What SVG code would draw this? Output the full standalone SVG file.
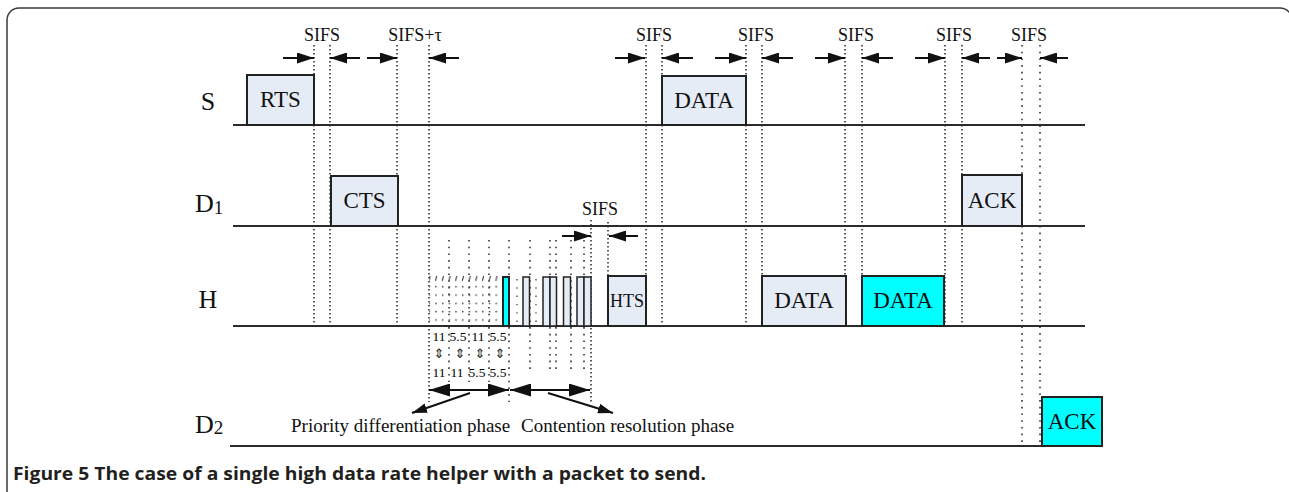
<svg xmlns="http://www.w3.org/2000/svg" width="1289" height="492" viewBox="0 0 1289 492">
<defs>
<style>
.frame{fill:none;stroke:#3a3a3a;stroke-width:1.5}
.base{stroke:#2b2b2b;stroke-width:2}
.box{fill:#e6ecf6;stroke:#222;stroke-width:2}
.cyan{fill:#00ffff;stroke:#222;stroke-width:2}
.thin{fill:#e6ecf6;stroke:#222;stroke-width:1.5}
.dot{stroke:#333;stroke-width:1.6;stroke-dasharray:1.6 2.4;fill:none}
.dot2{stroke:#333;stroke-width:1.6;stroke-dasharray:1.6 5.1;fill:none}
.dot3{stroke:#444;stroke-width:1.3;stroke-dasharray:1.4 6.9;fill:none}
.arr{stroke:#111;stroke-width:2;fill:none}
.t{font-family:"Liberation Serif","Times New Roman",serif;fill:#111}
.lbl{font-size:26px}
.sub{font-size:19px}
.btxt{font-size:23px;text-anchor:middle}
.sifs{font-size:18px;text-anchor:middle}
.small{font-size:13.5px;text-anchor:middle;fill:#000}
.sym{font-family:"DejaVu Sans",sans-serif;font-size:13px;text-anchor:middle;fill:#222}
.phase{font-size:19px}
.cap{font-family:"Open Sans","Liberation Sans",Arial,sans-serif;font-weight:bold;font-size:17px;fill:#231f20}
</style>
<marker id="ah" markerUnits="userSpaceOnUse" markerWidth="17" markerHeight="11" refX="17" refY="5.5" orient="auto"><path d="M0,0 L17,5.5 L0,11 z" fill="#111"/></marker>
<marker id="ahb" markerUnits="userSpaceOnUse" markerWidth="21" markerHeight="13" refX="21" refY="6.5" orient="auto-start-reverse"><path d="M0,0 L21,6.5 L0,13 z" fill="#111"/></marker>
<marker id="ahp" markerUnits="userSpaceOnUse" markerWidth="15" markerHeight="10" refX="15" refY="5" orient="auto"><path d="M0,0 L15,5 L0,10 z" fill="#111"/></marker>
<pattern id="dots" patternUnits="userSpaceOnUse" x="428.5" y="282.5" width="6.7" height="8.3"><rect x="0" y="3.6" width="1.4" height="1.4" fill="#333"/></pattern>
<pattern id="ticks" patternUnits="userSpaceOnUse" x="428.5" y="274" width="6.7" height="8"><path d="M0.2,7 L1.6,2" stroke="#333" stroke-width="1"/></pattern>
</defs>

<rect width="1289" height="492" fill="#ffffff"/>
<path class="frame" d="M7,492 V20 A12,12 0 0 1 19,8 H1280 A12,12 0 0 1 1292,20 V492"/>

<g id="connectors">
  <g id="dotted-guides">
    <line class="dot" x1="314" y1="45" x2="314" y2="326"/>
    <line class="dot" x1="330" y1="45" x2="330" y2="326"/>
    <line class="dot" x1="397" y1="45" x2="397" y2="326"/>
    <line class="dot" x1="429" y1="45" x2="429" y2="402"/>
    <line class="dot" x1="646" y1="45" x2="646" y2="326"/>
    <line class="dot" x1="662" y1="45" x2="662" y2="326"/>
    <line class="dot" x1="746" y1="45" x2="746" y2="326"/>
    <line class="dot" x1="762" y1="45" x2="762" y2="326"/>
    <line class="dot" x1="845" y1="45" x2="845" y2="326"/>
    <line class="dot" x1="862" y1="45" x2="862" y2="326"/>
    <line class="dot" x1="945" y1="45" x2="945" y2="326"/>
    <line class="dot" x1="962" y1="45" x2="962" y2="326"/>
    <line class="dot2" x1="1022" y1="45" x2="1022" y2="446"/>
    <line class="dot2" x1="1040" y1="45" x2="1040" y2="446"/>
    <line class="dot" x1="608" y1="222" x2="608" y2="276"/>
    <line class="dot" x1="591" y1="220" x2="591" y2="402"/>
    <line class="dot2" x1="449" y1="240" x2="449" y2="382"/>
    <line class="dot2" x1="469" y1="240" x2="469" y2="382"/>
    <line class="dot2" x1="489" y1="240" x2="489" y2="382"/>
    <line class="dot2" x1="509" y1="240" x2="509" y2="402"/>
    <line class="dot2" x1="530" y1="240" x2="530" y2="372"/>
    <line class="dot2" x1="550" y1="240" x2="550" y2="372"/>
    <line class="dot2" x1="556" y1="240" x2="556" y2="372"/>
    <line class="dot2" x1="571" y1="240" x2="571" y2="372"/>
    <line class="dot2" x1="584" y1="240" x2="584" y2="372"/>
    <line class="dot3" x1="517" y1="279" x2="517" y2="326"/>
    <line class="dot3" x1="536" y1="279" x2="536" y2="326"/>
  </g>
  <g id="sifs-arrows">
    <line class="arr" x1="283" y1="58" x2="314" y2="58" marker-end="url(#ah)"/>
    <line class="arr" x1="360" y1="58" x2="330" y2="58" marker-end="url(#ah)"/>
    <line class="arr" x1="367" y1="58" x2="397" y2="58" marker-end="url(#ah)"/>
    <line class="arr" x1="459" y1="58" x2="429" y2="58" marker-end="url(#ah)"/>
    <line class="arr" x1="615" y1="58" x2="645" y2="58" marker-end="url(#ah)"/>
    <line class="arr" x1="693" y1="58" x2="662" y2="58" marker-end="url(#ah)"/>
    <line class="arr" x1="715" y1="58" x2="746" y2="58" marker-end="url(#ah)"/>
    <line class="arr" x1="793" y1="58" x2="762" y2="58" marker-end="url(#ah)"/>
    <line class="arr" x1="815" y1="58" x2="845" y2="58" marker-end="url(#ah)"/>
    <line class="arr" x1="893" y1="58" x2="862" y2="58" marker-end="url(#ah)"/>
    <line class="arr" x1="915" y1="58" x2="945" y2="58" marker-end="url(#ah)"/>
    <line class="arr" x1="990" y1="58" x2="962" y2="58" marker-end="url(#ah)"/>
    <line class="arr" x1="997" y1="58" x2="1022" y2="58" marker-end="url(#ah)"/>
    <line class="arr" x1="1068" y1="58" x2="1040" y2="58" marker-end="url(#ah)"/>
    <line class="arr" x1="562" y1="236" x2="591" y2="236" marker-end="url(#ah)"/>
    <line class="arr" x1="638" y1="236" x2="609" y2="236" marker-end="url(#ah)"/>
  </g>
  <g id="phase-arrows">
    <line class="arr" x1="429" y1="390" x2="509" y2="390" marker-start="url(#ahb)" marker-end="url(#ahb)"/>
    <line class="arr" x1="510" y1="390" x2="590" y2="390" marker-start="url(#ahb)" marker-end="url(#ahb)"/>
    <line class="arr" x1="470" y1="393" x2="412" y2="413" marker-end="url(#ahp)"/>
    <line class="arr" x1="548" y1="393" x2="613" y2="413" marker-end="url(#ahp)"/>
  </g>
</g>

<g id="row-S">
  <line class="base" x1="233" y1="125" x2="1085" y2="125"/>
  <text class="t lbl" x="208" y="110" text-anchor="middle">S</text>
</g>
<g id="row-D1">
  <line class="base" x1="233" y1="226" x2="1085" y2="226"/>
  <text class="t lbl" x="195" y="212">D<tspan class="sub" dy="2">1</tspan></text>
</g>
<g id="row-H">
  <line class="base" x1="233" y1="326" x2="1085" y2="326"/>
  <text class="t lbl" x="208" y="308" text-anchor="middle">H</text>
</g>
<g id="row-D2">
  <line class="base" x1="230" y1="446" x2="1102" y2="446"/>
  <text class="t lbl" x="195" y="433">D<tspan class="sub" dy="1">2</tspan></text>
</g>

<g id="s-rts"><rect class="box" x="247" y="75" width="67" height="50"/><text class="t btxt" x="280.5" y="107">RTS</text></g>
<g id="s-data"><rect class="box" x="662" y="76" width="84" height="49"/><text class="t btxt" x="704" y="108">DATA</text></g>
<g id="d1-cts"><rect class="box" x="331" y="176" width="67" height="50"/><text class="t btxt" x="364.5" y="208">CTS</text></g>
<g id="d1-ack"><rect class="box" x="962" y="175" width="60" height="51"/><text class="t btxt" x="992" y="208">ACK</text></g>
<g id="h-hts"><rect class="box" x="608" y="276" width="38" height="50"/><text class="t" x="627" y="307" font-size="18" text-anchor="middle">HTS</text></g>
<g id="h-data"><rect class="box" x="762" y="276" width="84" height="50"/><text class="t btxt" x="804" y="308">DATA</text></g>
<g id="h-data-cyan"><rect class="cyan" x="862" y="276" width="82" height="50"/><text class="t btxt" x="903" y="308">DATA</text></g>
<g id="d2-ack"><rect class="cyan" x="1042" y="397" width="60" height="49"/><text class="t btxt" x="1072" y="429">ACK</text></g>

<g id="priority-phase">
  <rect x="429" y="282" width="74" height="43" fill="url(#dots)"/>
  <rect x="429" y="274" width="74" height="8" fill="url(#ticks)"/>
  <rect class="cyan" x="503" y="277" width="6" height="49" stroke-width="1.5"/>
  <text class="t small" x="439" y="341">11</text>
  <text class="t small" x="458" y="341">5.5</text>
  <text class="t small" x="478" y="341">11</text>
  <text class="t small" x="498" y="341">5.5</text>
  <text class="sym" x="439" y="358">⇕</text>
  <text class="sym" x="460" y="358">⇕</text>
  <text class="sym" x="480" y="358">⇕</text>
  <text class="sym" x="500" y="358">⇕</text>
  <text class="t small" x="439" y="377">11</text>
  <text class="t small" x="457" y="377">11</text>
  <text class="t small" x="477" y="377">5.5</text>
  <text class="t small" x="498" y="377">5.5</text>
  <text class="t phase" x="291" y="432">Priority differentiation phase</text>
</g>

<g id="contention-phase">
  <rect class="thin" x="523" y="277" width="6.5" height="49"/>
  <rect class="thin" x="543" y="277" width="7" height="49"/>
  <rect class="thin" x="550" y="277" width="6.5" height="49"/>
  <rect class="thin" x="563.5" y="277" width="7" height="49"/>
  <rect class="thin" x="577" y="277" width="7" height="49"/>
  <rect class="thin" x="584" y="277" width="7" height="49"/>
  <text class="t phase" x="521" y="432">Contention resolution phase</text>
</g>

<g id="sifs-labels">
  <text class="t sifs" x="322" y="41">SIFS</text>
  <text class="t sifs" x="415" y="41">SIFS+τ</text>
  <text class="t sifs" x="654" y="41">SIFS</text>
  <text class="t sifs" x="756" y="41">SIFS</text>
  <text class="t sifs" x="856" y="41">SIFS</text>
  <text class="t sifs" x="954" y="41">SIFS</text>
  <text class="t sifs" x="1029" y="41">SIFS</text>
  <text class="t sifs" x="600" y="215">SIFS</text>
</g>

<text class="cap" x="13" y="480" textLength="693" lengthAdjust="spacingAndGlyphs">Figure 5 The case of a single high data rate helper with a packet to send.</text>
</svg>
